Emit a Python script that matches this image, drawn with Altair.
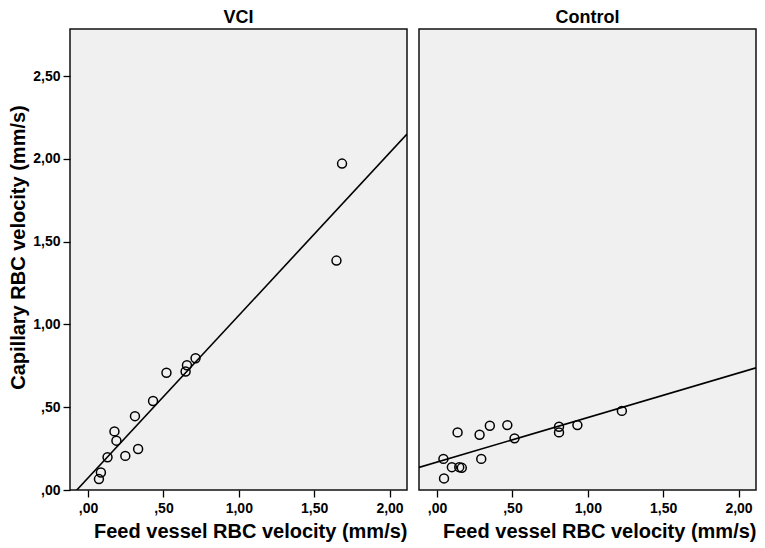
import altair as alt
import pandas as pd

# ---- data ----
vci_feed = [0.072, 0.085, 0.129, 0.175, 0.188, 0.247, 0.311, 0.332, 0.431, 0.520, 0.647, 0.656, 0.713, 1.685, 1.648]
vci_cap = [0.066, 0.106, 0.198, 0.354, 0.298, 0.206, 0.446, 0.248, 0.538, 0.708, 0.716, 0.754, 0.796, 1.972, 1.386]

ctl_feed = [0.042, 0.046, 0.098, 0.136, 0.147, 0.164, 0.282, 0.293, 0.350, 0.466, 0.514, 0.809, 0.809, 0.931, 1.226]
ctl_cap = [0.188, 0.070, 0.138, 0.348, 0.138, 0.134, 0.334, 0.188, 0.388, 0.392, 0.312, 0.382, 0.348, 0.392, 0.478]

panel_titles = ["VCI", "Control"]
x_ticks = [0, 0.5, 1.0, 1.5, 2.0]
y_ticks = [0, 0.5, 1.0, 1.5, 2.0, 2.5]
x_domain = [-0.12, 2.116]
y_domain = [0, 2.785]

FONT = "Liberation Sans"
LBL = ("datum.value < 1 ? replace(format(datum.value, '.2f'), '0.', ',') "
       ": replace(format(datum.value, '.2f'), '.', ',')")

W, H = 337, 461


def panel(feed, cap, title, show_y):
    df = pd.DataFrame({"feed": feed, "cap": cap})
    xenc = alt.X(
        "feed:Q",
        scale=alt.Scale(domain=x_domain, nice=False, zero=False),
        axis=alt.Axis(
            values=x_ticks, labelExpr=LBL, title="Feed vessel RBC velocity (mm/s)",
            titleAnchor="end", titleFontSize=20, titlePadding=6,
            labelFontSize=14, labelPadding=4, tickSize=7,
        ),
    )
    if show_y:
        yaxis = alt.Axis(
            values=y_ticks, labelExpr=LBL, title="Capillary RBC velocity (mm/s)",
            titleFontSize=20, titlePadding=4, titleY=218,
            labelFontSize=14, labelPadding=3, tickSize=7,
        )
    else:
        yaxis = None
    yenc = alt.Y("cap:Q", scale=alt.Scale(domain=y_domain, nice=False, zero=False), axis=yaxis)

    base = alt.Chart(df)
    pts = base.mark_point(shape="circle", filled=False, color="black", size=80, strokeWidth=1.5, opacity=1).encode(
        x=xenc, y=yenc
    )
    line = base.transform_regression("feed", "cap", extent=x_domain).mark_line(
        color="black", strokeWidth=1.6, clip=True
    ).encode(x=xenc, y=yenc)
    return alt.layer(line, pts).properties(
        width=W, height=H,
        title=alt.TitleParams(title, fontSize=18, font=FONT, fontWeight="bold", anchor="middle",
                              offset=2, color="black"),
    )


chart = alt.hconcat(
    panel(vci_feed, vci_cap, panel_titles[0], True),
    panel(ctl_feed, ctl_cap, panel_titles[1], False),
    spacing=10,
).properties(
    padding={"left": 0, "top": 0, "right": 0, "bottom": 0},
    background="white",
).configure_view(
    fill="#f0f0f0", stroke="#111111", strokeWidth=1.5
).configure_axis(
    domain=False, grid=False, tickColor="black", labelColor="black", titleColor="black",
    labelFont=FONT, titleFont=FONT, labelFontWeight="bold", titleFontWeight="bold",
    tickWidth=1.3,
)

chart.save("out.html", embed_options={"renderer": "svg", "actions": False})
